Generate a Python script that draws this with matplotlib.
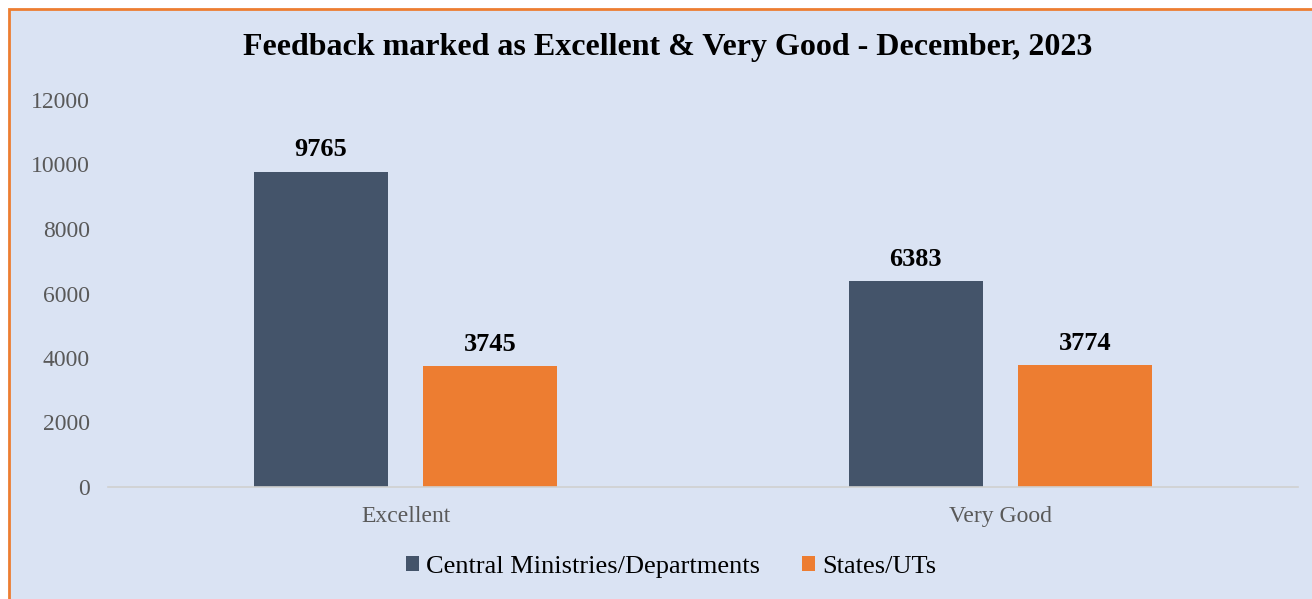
import matplotlib
matplotlib.use("Agg")
import matplotlib.pyplot as plt
from matplotlib.patches import Rectangle
import numpy as np

categories = ["Excellent", "Very Good"]
series_names = ["Central Ministries/Departments", "States/UTs"]
central = [9765, 6383]
states = [3745, 3774]
yticks = [0, 2000, 4000, 6000, 8000, 10000, 12000]
title = "Feedback marked as Excellent & Very Good - December, 2023"

W, H = 1312, 599
fig = plt.figure(figsize=(W / 100, H / 100), dpi=100, facecolor="white")
plt.rcParams["font.family"] = ["Liberation Serif", "DejaVu Serif"]

bg = "#DAE3F3"
fig.patches.append(Rectangle((9 / W, -0.05), 1.2, 1 - 9 / H + 0.05, transform=fig.transFigure,
                             facecolor=bg, edgecolor="#ED7D31", linewidth=2, zorder=-10))

ax = fig.add_axes([108 / W, 1 - 487 / H, (1298 - 108) / W, (487 - 100) / H])
ax.set_facecolor("none")

x = np.arange(len(categories))
bw = 0.225
off = 0.1425
c1, c2 = "#44546A", "#ED7D31"
b1 = ax.bar(x - off, central, bw, color=c1, label=series_names[0], zorder=2)
b2 = ax.bar(x + off, states, bw, color=c2, label=series_names[1], zorder=2)
for bars in (b1, b2):
    for r in bars:
        ax.text(r.get_x() + r.get_width() / 2, r.get_height() + 330, f"{int(r.get_height())}",
                ha="center", va="bottom", fontsize=19, fontweight="bold", color="black")

ax.set_xlim(-0.5, 1.5)
ax.set_ylim(0, 12000)
ax.set_yticks(yticks)
ax.set_yticklabels([str(t) for t in yticks])
ax.set_xticks(x)
ax.set_xticklabels(categories)
for s in ["top", "right", "left"]:
    ax.spines[s].set_visible(False)
ax.spines["bottom"].set_color("#D0D0D0")
ax.spines["bottom"].set_linewidth(1.2)
ax.tick_params(axis="both", length=0, labelsize=17, labelcolor="#595959")
ax.tick_params(axis="y", pad=13)
ax.tick_params(axis="x", pad=14)

fig.text(667.5 / W, 1 - 48 / H, title, ha="center", va="center", fontsize=23, fontweight="bold")

leg = fig.legend(handles=[b1, b2], labels=series_names, loc="center", bbox_to_anchor=(671 / W, 1 - 567 / H),
                 ncol=2, frameon=False, fontsize=19, handlelength=0.5, handleheight=0.5,
                 handletextpad=0.27, columnspacing=1.6)

fig.savefig("out.png", dpi=100, facecolor="white")
